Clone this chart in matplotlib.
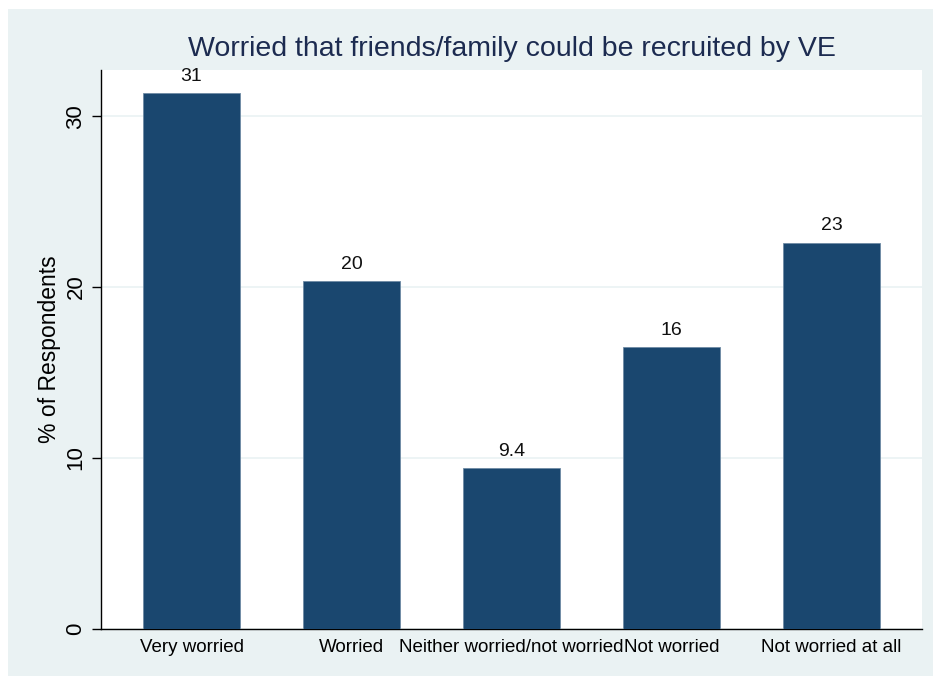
import matplotlib.pyplot as plt
import numpy as np

categories = ['Very worried', 'Worried', 'Neither worried/not worried',
              'Not worried', 'Not worried at all']
values = [31.35, 20.35, 9.4, 16.5, 22.6]
labels = ['31', '20', '9.4', '16', '23']
y_ticks = [0, 10, 20, 30]

bg = '#EAF2F3'
bar_color = '#1A476F'

plt.rcParams['font.family'] = ['Liberation Sans', 'DejaVu Sans']

fig = plt.figure(figsize=(9.33, 6.79), dpi=100)
fig.patch.set_facecolor('white')
# light outer panel
fig.add_artist(plt.Rectangle((8 / 933, 3 / 679), 925 / 933, 667 / 679,
                             transform=fig.transFigure, facecolor=bg,
                             edgecolor='none', zorder=-10))

ax = fig.add_axes([101 / 933, 50 / 679, 821 / 933, 559 / 679])
ax.set_facecolor('white')

x = np.arange(len(categories))
ax.bar(x, values, width=0.606, color=bar_color, edgecolor='#6F8BA5',
       linewidth=0.6, zorder=3)
for xi, v, lab in zip(x, values, labels):
    ax.annotate(lab, (xi, v), xytext=(0, 6), textcoords='offset points',
                ha='center', va='bottom', fontsize=14, color='#111111')

ax.set_xlim(-0.566, 4.566)
ax.set_ylim(0, 32.7)
ax.set_yticks(y_ticks)
ax.set_yticklabels([str(t) for t in y_ticks], rotation=90, va='center',
                   fontsize=16)
ax.set_xticks(x)
ax.set_xticklabels(categories, fontsize=13.5)
ax.tick_params(axis='x', length=0, pad=7)
ax.tick_params(axis='y', length=6.5, width=1, pad=4)
ax.yaxis.grid(True, color=bg, linewidth=1.2, zorder=0)
ax.set_axisbelow(True)

for s in ['top', 'right']:
    ax.spines[s].set_visible(False)
ax.spines['left'].set_linewidth(1)
ax.spines['bottom'].set_linewidth(1)

ax.set_ylabel('% of Respondents', fontsize=16.5, labelpad=3)
ax.set_title('Worried that friends/family could be recruited by VE',
             fontsize=20.5, color='#1C2B50', pad=10)

fig.savefig('out.png', dpi=100)
